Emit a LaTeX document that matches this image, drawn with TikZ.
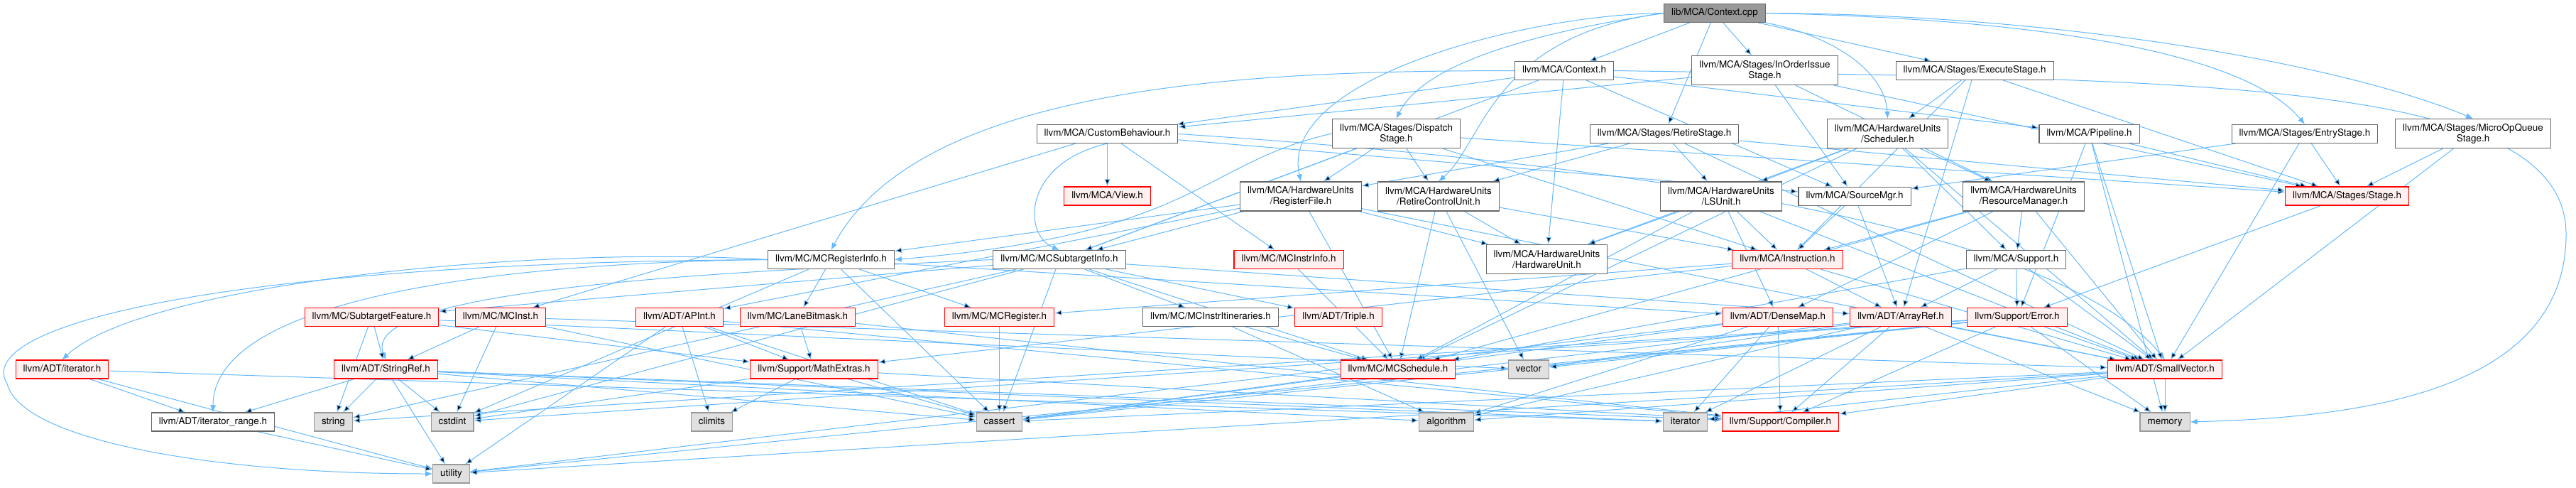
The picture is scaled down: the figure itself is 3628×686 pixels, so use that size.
\documentclass[tikz,border=0pt]{standalone}
\usepackage{fontspec}
\setmainfont{TeX Gyre Heros}
\usetikzlibrary{arrows.meta,backgrounds}

\definecolor{edgeblue}{RGB}{99,184,255}
\definecolor{boxline}{RGB}{102,102,102}
\definecolor{rootfill}{RGB}{153,153,153}
\definecolor{sysline}{RGB}{153,153,153}
\definecolor{sysfill}{RGB}{224,224,224}
\definecolor{cutfill}{RGB}{255,240,240}

\begin{document}
\begin{tikzpicture}[x=0.75pt,y=-0.75pt,
    hbase/.style={rectangle,draw=boxline,fill=white,line width=0.8pt,
      font=\fontsize{10.1}{11.25}\selectfont,inner xsep=7.9pt,inner ysep=1pt},
    hdr/.style={hbase,minimum height=19.5pt,text height=7.4pt,text depth=2.2pt},
    hdrtwo/.style={hbase,align=center,minimum height=30.75pt},
    cut/.style={draw=red,fill=cutfill},
    sys/.style={draw=sysline,fill=sysfill},
    root/.style={fill=rootfill},
    inc/.style={draw=edgeblue,line width=0.75pt,-{Latex[length=7.5pt,width=6pt]}}]
    \useasboundingbox (0,0) rectangle (3628,686);
    % source file
    \node[hdr,root] (ctxcpp) at (2415,18.5) {lib/MCA/Context.cpp};
    % direct includes
    \node[hdr] (ctxh) at (2203,99.5) {llvm/MCA/Context.h};
    \node[hdrtwo] (inorder) at (2485.5,99) {llvm/MCA/Stages/InOrderIssue\\Stage.h};
    \node[hdr] (execute) at (2781,99.5) {llvm/MCA/Stages/ExecuteStage.h};
    % stages
    \node[hdr] (custom) at (1559.5,188.5) {llvm/MCA/CustomBehaviour.h};
    \node[hdrtwo] (dispatch) at (1966.5,188) {llvm/MCA/Stages/Dispatch\\Stage.h};
    \node[hdr] (retire) at (2344,188.5) {llvm/MCA/Stages/RetireStage.h};
    \node[hdrtwo] (scheduler) at (2658.5,188) {llvm/MCA/HardwareUnits\\/Scheduler.h};
    \node[hdr] (pipeline) at (2942.5,188.5) {llvm/MCA/Pipeline.h};
    \node[hdr] (entry) at (3246,188.5) {llvm/MCA/Stages/EntryStage.h};
    \node[hdrtwo] (microop) at (3483,188) {llvm/MCA/Stages/MicroOpQueue\\Stage.h};
    % hardware units
    \node[hdr,cut] (view) at (1559.5,276) {llvm/MCA/View.h};
    \node[hdrtwo] (regfile) at (1832,276.5) {llvm/MCA/HardwareUnits\\/RegisterFile.h};
    \node[hdrtwo] (rcu) at (2026,276.5) {llvm/MCA/HardwareUnits\\/RetireControlUnit.h};
    \node[hdrtwo] (lsunit) at (2424,276.5) {llvm/MCA/HardwareUnits\\/LSUnit.h};
    \node[hdr] (srcmgr) at (2612,276.5) {llvm/MCA/SourceMgr.h};
    \node[hdrtwo] (resmgr) at (2850,276.5) {llvm/MCA/HardwareUnits\\/ResourceManager.h};
    \node[hdr,cut] (stage) at (3305.5,276) {llvm/MCA/Stages/Stage.h};
    % MC layer
    \node[hdr] (mcreginfo) at (1170.5,365.5) {llvm/MC/MCRegisterInfo.h};
    \node[hdr] (mcsti) at (1492,365.5) {llvm/MC/MCSubtargetInfo.h};
    \node[hdr,cut] (mcinstrinfo) at (1815,365.5) {llvm/MC/MCInstrInfo.h};
    \node[hdrtwo] (hwunit) at (2178.5,365) {llvm/MCA/HardwareUnits\\/HardwareUnit.h};
    \node[hdr,cut] (instruction) at (2517.5,365.5) {llvm/MCA/Instruction.h};
    \node[hdr] (support) at (2839.5,365.5) {llvm/MCA/Support.h};
    \node[hdr,cut] (subfeat) at (523.5,446.5) {llvm/MC/SubtargetFeature.h};
    \node[hdr,cut] (mcinst) at (705,446.5) {llvm/MC/MCInst.h};
    \node[hdr,cut] (apint) at (957,446.5) {llvm/ADT/APInt.h};
    \node[hdr,cut] (lanebm) at (1123.5,446.5) {llvm/MC/LaneBitmask.h};
    \node[hdr,cut] (mcregister) at (1407.5,446.5) {llvm/MC/MCRegister.h};
    \node[hdr] (mcitin) at (1705,446.5) {llvm/MC/MCInstrItineraries.h};
    \node[hdr,cut] (triple) at (1885,446.5) {llvm/ADT/Triple.h};
    \node[hdr,cut] (densemap) at (2504,446.5) {llvm/ADT/DenseMap.h};
    \node[hdr,cut] (arrayref) at (2677,446.5) {llvm/ADT/ArrayRef.h};
    \node[hdr,cut] (error) at (2841,446.5) {llvm/Support/Error.h};
    % ADT and Support
    \node[hdr,cut] (iterh) at (87.5,520) {llvm/ADT/iterator.h};
    \node[hdr,cut] (stringref) at (543.5,520) {llvm/ADT/StringRef.h};
    \node[hdr,cut] (mathext) at (1146.5,520) {llvm/Support/MathExtras.h};
    \node[hdr,cut] (mcsched) at (1969,520) {llvm/MC/MCSchedule.h};
    \node[hdr,sys] (vector) at (2153,520) {vector};
    \node[hdr,cut] (smallvec) at (3049,520) {llvm/ADT/SmallVector.h};
    % leaves
    \node[hdr] (iterrange) at (300,594) {llvm/ADT/iterator\_range.h};
    \node[hdr,sys] (string) at (469.5,594) {string};
    \node[hdr,sys] (cstdint) at (637,594) {cstdint};
    \node[hdr,sys] (climits) at (1002.5,594) {climits};
    \node[hdr,sys] (cassert) at (1407.5,594) {cassert};
    \node[hdr,sys] (algorithm) at (2037,594) {algorithm};
    \node[hdr,sys] (iterator) at (2373.5,594) {iterator};
    \node[hdr,cut] (compiler) at (2507.5,594) {llvm/Support/Compiler.h};
    \node[hdr,sys] (memory) at (3049,594) {memory};
    \node[hdr,sys] (utility) at (635.5,667) {utility};
    % include edges
    \begin{scope}[on background layer]
      \coordinate (rim) at (3614,330);
      \coordinate (lrim) at (10,540);
      % routed round other boxes
      \draw[inc] (ctxcpp.west) .. controls (2150,20) and (1800,110) .. (regfile.north);
      \draw[inc] (ctxcpp.west) .. controls (2200,40) and (2010,80) .. (dispatch.north);
      \draw[inc] (ctxcpp.west) .. controls (2100,50) and (2090,200) .. (rcu.north);
      \draw[inc] (ctxcpp.south east) .. controls (2580,50) and (2655,100) .. (scheduler.north);
      \draw[inc] (ctxcpp.east) .. controls (2800,25) and (3150,60) .. (entry.north);
      \draw[inc] (ctxcpp.east) .. controls (2900,20) and (3300,90) .. (microop.north);
      \draw[inc] (ctxh.west) .. controls (1800,100) and (1300,110) .. (mcreginfo.north);
      \draw[inc] (ctxh.east) .. controls (3100,112) and (3614,110) .. (rim)
        .. controls (3614,560) and (3300,588) .. (memory.east);
      \draw[inc] (dispatch.west) .. controls (1690,230) and (1690,330) .. (mcreginfo.east);
      \draw[inc] (custom.south) .. controls (1440,230) and (1440,330) .. (mcsti.north);
      \draw[inc] (custom.east) .. controls (2300,230) and (2900,320) .. (smallvec.north);
      \draw[inc] (mcreginfo.west) .. controls (750,345) and (200,400) .. (iterh.north);
      \draw[inc] (mcreginfo.west) .. controls (700,370) and (300,420) .. (iterrange.north);
      \draw[inc] (mcreginfo.west) .. controls (300,370) and (-40,460) .. (lrim)
        .. controls (30,620) and (300,667) .. (utility.west);
      \draw[inc] (mcsti.west) .. controls (1100,380) and (500,400) .. (stringref.north);
      % straight includes
      \draw[inc] (ctxcpp) edge (ctxh) edge (inorder) edge (execute) edge (retire);
      \draw[inc] (ctxh) edge (custom) edge (mcsti) edge (hwunit) edge (pipeline) edge (srcmgr);
      \draw[inc] (inorder) edge (custom) edge (resmgr) edge (srcmgr) edge (stage);
      \draw[inc] (execute) edge (scheduler) edge (instruction) edge (arrayref) edge (stage);
      \draw[inc] (custom) edge (mcinst) edge (mcinstrinfo) edge (srcmgr) edge (view);
      \draw[inc] (dispatch) edge (mcsti) edge (regfile) edge (rcu) edge (instruction) edge (stage);
      \draw[inc] (retire) edge (smallvec) edge (lsunit) edge (regfile) edge (rcu) edge (stage);
      \draw[inc] (scheduler) edge (smallvec) edge (mcsched) edge (hwunit) edge (lsunit)
        edge (resmgr) edge (support);
      \draw[inc] (pipeline) edge (stage) edge (error) edge (smallvec) edge (memory);
      \draw[inc] (entry) edge (smallvec) edge (srcmgr) edge (stage);
      \draw[inc] (microop) edge (smallvec) edge (stage);
      \draw[inc] (regfile) edge (apint) edge (smallvec) edge (mcreginfo) edge (mcsched)
        edge (mcsti) edge (hwunit);
      \draw[inc] (rcu) edge (mcsched) edge (hwunit) edge (instruction) edge (vector);
      \draw[inc] (lsunit) edge (densemap) edge (smallvec) edge (mcsched) edge (hwunit)
        edge (instruction);
      \draw[inc] (srcmgr) edge (arrayref) edge (instruction);
      \draw[inc] (resmgr) edge (densemap) edge (smallvec) edge (mcsched) edge (instruction)
        edge (support);
      \draw[inc] (stage) edge (error);
      \draw[inc] (mcreginfo) edge (densemap) edge (lanebm) edge (mcregister) edge (cassert)
        edge (cstdint);
      \draw[inc] (mcsti) edge (arrayref) edge (triple) edge (mcitin) edge (mcsched)
        edge (subfeat) edge (cassert) edge (cstdint) edge (string);
      \draw[inc] (mcinstrinfo) edge (mcsched);
      \draw[inc] (instruction) edge (arrayref) edge (smallvec) edge (mcregister) edge (mathext);
      \draw[inc] (support) edge (arrayref) edge (smallvec) edge (mcsched) edge (error);
      \draw[inc] (subfeat) edge (stringref) edge (string) edge (mathext) edge (vector);
      \draw[inc] (mcinst) edge (smallvec) edge (stringref) edge (cstdint) edge (cassert);
      \draw[inc] (apint) edge (mathext) edge (compiler) edge (cassert) edge (climits)
        edge (utility);
      \draw[inc] (lanebm) edge (mathext) edge (compiler);
      \draw[inc] (mcregister) edge (cassert);
      \draw[inc] (mcitin) edge (mcsched) edge (algorithm);
      \draw[inc] (densemap) edge (compiler) edge (iterator) edge (utility) edge (algorithm)
        edge (cassert);
      \draw[inc] (arrayref) edge (smallvec) edge (memory) edge (compiler) edge (iterator)
        edge (algorithm) edge (cassert) edge (vector);
      \draw[inc] (error) edge (smallvec) edge (memory) edge (compiler) edge (utility)
        edge (cassert) edge (cstdint) edge (string) edge (vector);
      \draw[inc] (iterh) edge (iterrange) edge (utility) edge (iterator);
      \draw[inc] (stringref) edge (iterrange) edge (string) edge (utility) edge (algorithm)
        edge (cassert) edge (compiler) edge (cstdint) edge (iterator);
      \draw[inc] (mathext) edge (cassert) edge (climits) edge (cstdint) edge (compiler);
      \draw[inc] (mcsched) edge (cassert);
      \draw[inc] (smallvec) edge (compiler) edge (iterator) edge (algorithm) edge (cassert)
        edge (utility) edge (memory);
      \draw[inc] (iterrange) edge (utility);
    \end{scope}
  \end{tikzpicture}
\end{document}
